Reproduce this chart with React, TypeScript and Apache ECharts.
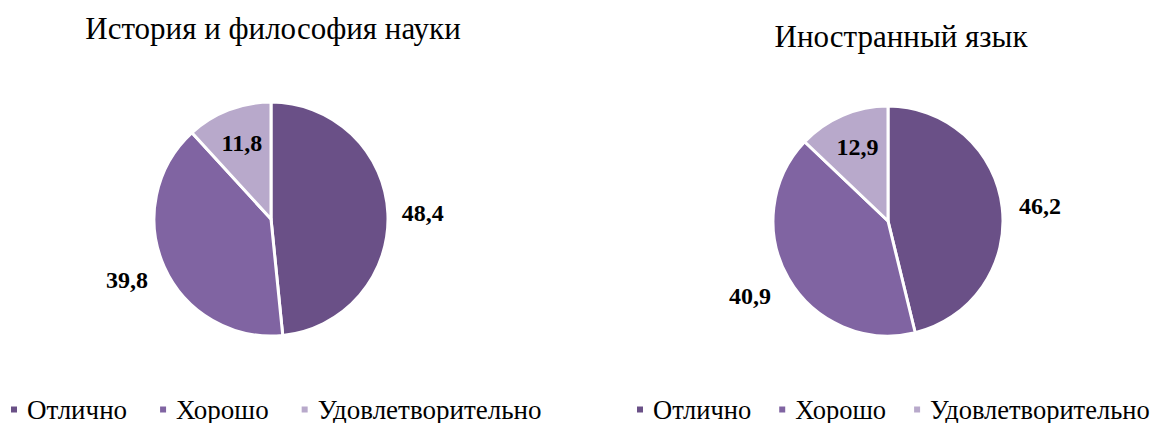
import React, { useEffect, useRef } from "react";
import * as echarts from "echarts";

const categories = ["Отлично", "Хорошо", "Удовлетворительно"];
const titles = ["История и философия науки", "Иностранный язык"];
const valuesHistory = [48.4, 39.8, 11.8];
const valuesLanguage = [46.2, 40.9, 12.9];
const colors = ["#6a5087", "#8064a2", "#b8a9cb"];

const FONT = "Liberation Serif";
const SQUARE = "path://M0,0H1V1H0Z";

function fmt(v: number) {
  return v.toFixed(1).replace(".", ",");
}

export default function App() {
  const ref = useRef<HTMLDivElement>(null);
  useEffect(() => {
    if (!ref.current) return;
    const chart = echarts.init(ref.current, undefined, { renderer: "svg" });
    const labelBase = {
      show: true,
      position: "outside",
      fontFamily: FONT,
      fontSize: 24,
      fontWeight: "bold",
      color: "#000",
      distanceToLabelLine: 3,
      formatter: (p: any) => fmt(p.value),
    };
    const mk = (vals: number[], cfg: { l: number; l2: number }[]) =>
      vals.map((v, i) => ({
        name: categories[i],
        value: v,
        itemStyle: { color: colors[i] },
        labelLine: { show: false, length: cfg[i].l, length2: cfg[i].l2 },
      }));
    const legendBase = {
      data: categories,
      icon: SQUARE,
      itemWidth: 16,
      itemHeight: 8,
      selectedMode: false,
    };
    chart.setOption({
      animation: false,
      title: [
        {
          text: titles[0],
          left: 268,
          top: 8,
          textAlign: "center",
          textStyle: { fontFamily: FONT, fontSize: 31, fontWeight: "normal", color: "#000" },
        },
        {
          text: titles[1],
          left: 896,
          top: 16,
          textAlign: "center",
          textStyle: { fontFamily: FONT, fontSize: 31, fontWeight: "normal", color: "#000" },
        },
      ],
      legend: [
        {
          ...legendBase,
          left: 4,
          top: 391,
          itemGap: 31,
          textStyle: { fontFamily: FONT, fontSize: 27, color: "#000" },
        },
        {
          ...legendBase,
          left: 630,
          top: 391,
          itemGap: 26,
          textStyle: { fontFamily: FONT, fontSize: 26.5, color: "#000" },
        },
      ],
      series: [
        {
          type: "pie",
          center: [271, 219],
          radius: [0, 117],
          startAngle: 90,
          clockwise: true,
          avoidLabelOverlap: false,
          itemStyle: { borderColor: "#fff", borderWidth: 3 },
          label: labelBase,
          emphasis: { disabled: true },
          data: mk(valuesHistory, [
            { l: 8, l2: 3 },
            { l: 32, l2: -16 },
            { l: -35, l2: -24 },
          ]),
        },
        {
          type: "pie",
          center: [888, 221],
          radius: [0, 115],
          startAngle: 90,
          clockwise: true,
          avoidLabelOverlap: false,
          itemStyle: { borderColor: "#fff", borderWidth: 3 },
          label: labelBase,
          emphasis: { disabled: true },
          data: mk(valuesLanguage, [
            { l: 10, l2: 4 },
            { l: 34, l2: -15 },
            { l: -35, l2: -25 },
          ]),
        },
      ],
    });
    return () => chart.dispose();
  }, []);
  return (
    <div
      ref={ref}
      style={{ position: "absolute", left: 0, top: 0, width: 1155, height: 423, background: "#fff" }}
    />
  );
}
